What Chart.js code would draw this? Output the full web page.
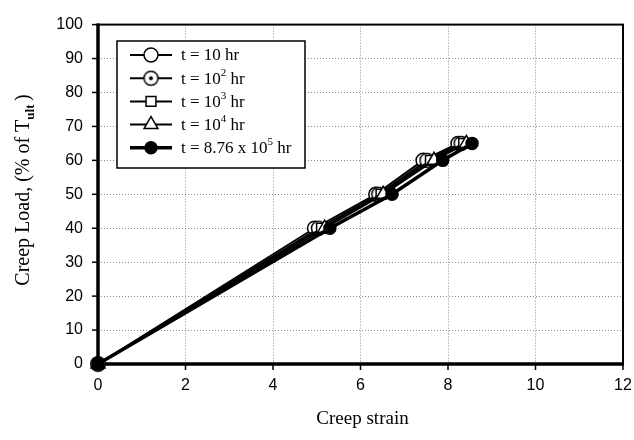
<!DOCTYPE html>
<html>
<head>
<meta charset="utf-8">
<script src="https://cdn.jsdelivr.net/npm/chart.js@4/dist/chart.umd.min.js"></script>
<style>
  html,body{margin:0;padding:0;background:#fff}
  #wrap{width:634px;height:440px}
</style>
</head>
<body>
<div id="wrap"><canvas id="c" width="634" height="440"></canvas></div>
<script>
// creep load levels (% of T_ult)
const loads = [0, 40, 50, 60, 65];
// creep strain at each load, one list per time
const strain10 = [0, 4.95, 6.35, 7.43, 8.23];
const strain1e2 = [0, 5.04, 6.42, 7.52, 8.30];
const strain1e3 = [0, 5.11, 6.47, 7.60, 8.36];
const strain1e4 = [0, 5.18, 6.52, 7.68, 8.42];
const strain876e5 = [0, 5.30, 6.72, 7.88, 8.55];
const legendLabels = ['t = 10 hr', 't = 10|2| hr', 't = 10|3| hr', 't = 10|4| hr', 't = 8.76 x 10|5| hr'];
const xTicks = [0, 2, 4, 6, 8, 10, 12];
const yTicks = [0, 10, 20, 30, 40, 50, 60, 70, 80, 90, 100];

const pts = (xs) => xs.map((x, i) => ({x: x, y: loads[i]}));

// circle with a dot in the middle
function dotCircle(){
  const c = document.createElement('canvas'); c.width = 17; c.height = 17;
  const g = c.getContext('2d');
  g.beginPath(); g.arc(8.5, 8.5, 7, 0, Math.PI*2); g.fillStyle = '#fff'; g.fill();
  g.lineWidth = 1.5; g.strokeStyle = '#000'; g.stroke();
  g.beginPath(); g.arc(8.5, 8.5, 2, 0, Math.PI*2); g.fillStyle = '#000'; g.fill();
  return c;
}

const base = {borderColor:'#000', pointBorderColor:'#000', pointBackgroundColor:'#fff', borderWidth:2, pointBorderWidth:1.5, pointRadius:7, clip:false};
const datasets = [
  Object.assign({}, base, {label:legendLabels[0], data:pts(strain10), pointStyle:'circle', order:5}),
  Object.assign({}, base, {label:legendLabels[1], data:pts(strain1e2), pointStyle:dotCircle(), order:4}),
  Object.assign({}, base, {label:legendLabels[2], data:pts(strain1e3), pointStyle:'rect', pointRadius:7, order:3}),
  Object.assign({}, base, {label:legendLabels[3], data:pts(strain1e4), pointStyle:'triangle', pointRadius:8, order:2}),
  Object.assign({}, base, {label:legendLabels[4], data:pts(strain876e5), pointStyle:'circle', pointBackgroundColor:'#000', borderWidth:3.5, pointRadius:6, order:1})
];

// text with |sup| parts
function supText(g, s, x, y, size, font){
  const parts = s.split('|');
  parts.forEach((p, i) => {
    if (i % 2 === 1){
      g.font = Math.round(size*0.62) + 'px ' + font;
      g.fillText(p, x, y - size*0.38);
    } else {
      g.font = size + 'px ' + font;
      g.fillText(p, x, y);
    }
    x += g.measureText(p).width;
  });
}

const frame = {
  id:'frame',
  beforeDatasetsDraw(chart){
    const g = chart.ctx, a = chart.chartArea, xs = chart.scales.x, ys = chart.scales.y;
    g.save();
    g.strokeStyle = '#000';
    g.lineWidth = 2; g.strokeRect(a.left, a.top, a.right - a.left, a.bottom - a.top);
    g.lineWidth = 3.5;
    g.beginPath(); g.moveTo(a.left, a.top - 1); g.lineTo(a.left, a.bottom); g.lineTo(a.right + 1, a.bottom); g.stroke();
    g.lineWidth = 1.5;
    yTicks.forEach(v => { const p = ys.getPixelForValue(v); g.beginPath(); g.moveTo(a.left - 6, p); g.lineTo(a.left, p); g.stroke(); });
    xTicks.forEach(v => { const p = xs.getPixelForValue(v); g.beginPath(); g.moveTo(p, a.bottom); g.lineTo(p, a.bottom + 6); g.stroke(); });
    g.restore();
  },
  afterDraw(chart){
    const g = chart.ctx, a = chart.chartArea;
    g.save();
    // axis titles
    g.fillStyle = '#000';
    g.font = '19px "Liberation Serif"';
    g.textAlign = 'center'; g.textBaseline = 'alphabetic';
    g.fillText('Creep strain', (a.left + a.right) / 2 + 2, 424);
    g.translate(29, 190); g.rotate(-Math.PI/2);
    const t1 = 'Creep Load, (% of T', sub = 'ult', t2 = ' )';
    g.font = '20px "Liberation Serif"'; const w1 = g.measureText(t1).width, w3 = g.measureText(t2).width;
    g.font = '13px "Liberation Serif"'; const w2 = g.measureText(sub).width;
    let x = -(w1 + w2 + w3) / 2;
    g.textAlign = 'left';
    g.font = '20px "Liberation Serif"'; g.fillText(t1, x, 0); x += w1;
    g.font = 'bold 13px "Liberation Serif"'; g.fillText(sub, x, 5); x += w2;
    g.font = '20px "Liberation Serif"'; g.fillText(t2, x, 0);
    g.restore();

    // legend box
    g.save();
    const bx = 117, by = 41, bw = 188, bh = 127;
    g.fillStyle = '#fff'; g.fillRect(bx, by, bw, bh);
    g.strokeStyle = '#000'; g.lineWidth = 1.5; g.strokeRect(bx, by, bw, bh);
    chart.data.datasets.forEach((ds, i) => {
      const yy = 55 + i * 23.2;
      g.strokeStyle = '#000'; g.lineWidth = ds.borderWidth;
      g.beginPath(); g.moveTo(130, yy); g.lineTo(172, yy); g.stroke();
      g.fillStyle = ds.pointBackgroundColor; g.strokeStyle = '#000'; g.lineWidth = ds.pointBorderWidth;
      Chart.helpers.drawPoint(g, {pointStyle: ds.pointStyle, radius: ds.pointRadius, borderWidth: ds.pointBorderWidth, rotation: 0}, 151, yy);
      g.fillStyle = '#000'; g.textAlign = 'left'; g.textBaseline = 'middle';
      supText(g, ds.label, 181, yy + 1, 17, '"Liberation Serif"');
    });
    g.restore();
  }
};

new Chart(document.getElementById('c'), {
  type:'line',
  data:{datasets:datasets},
  plugins:[frame],
  options:{
    responsive:false, animation:false,
    layout:{padding:{top:16, right:0, left:0, bottom:0}},
    plugins:{legend:{display:false}, tooltip:{enabled:false}},
    scales:{
      x:{type:'linear', min:0, max:12,
        afterBuildTicks(s){ s.ticks = xTicks.map(v => ({value:v})); },
        afterFit(s){ s.height = 76; s.paddingLeft = 0; s.paddingRight = 11; },
        grid:{color:'#8a8a8a', lineWidth:1, drawTicks:false},
        border:{display:false, dash:[1,2]},
        ticks:{padding:12, color:'#000', font:{family:'"Liberation Sans"', size:16}, maxRotation:0}
      },
      y:{type:'linear', min:0, max:100,
        afterBuildTicks(s){ s.ticks = yTicks.map(v => ({value:v})); },
        afterFit(s){ s.width = 98; },
        grid:{color:'#8a8a8a', lineWidth:1, drawTicks:false},
        border:{display:false, dash:[1,2]},
        ticks:{padding:15, color:'#000', font:{family:'"Liberation Sans"', size:16}}
      }
    }
  }
});
</script>
</body>
</html>
